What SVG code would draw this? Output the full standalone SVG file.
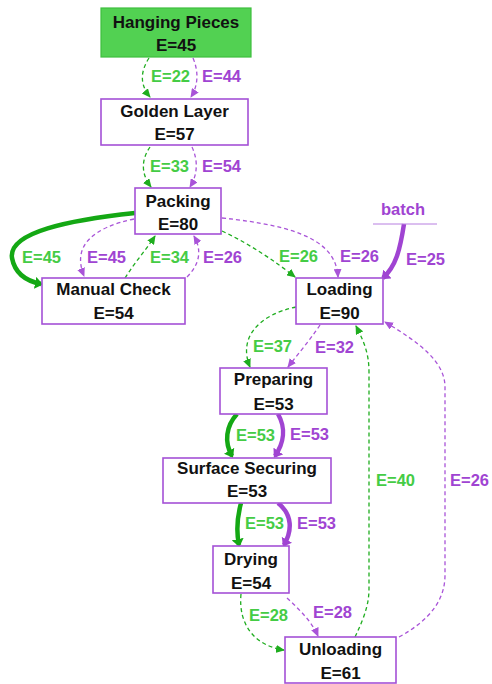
<svg xmlns="http://www.w3.org/2000/svg" width="492" height="684" viewBox="0 0 492 684">
  <style>
    .box { fill: #ffffff; stroke: #a451d6; stroke-width: 1.6; }
    .start { fill: #52d152; stroke: #3fbf3f; stroke-width: 1.2; }
    .name { font-family: "Liberation Sans", Arial, sans-serif; font-weight: bold; font-size: 17px; fill: #111111; text-anchor: middle; }
    .lbl { font-family: "Liberation Sans", Arial, sans-serif; font-weight: bold; font-size: 16.5px; }
    .lg { fill: #45cc45; }
    .lp { fill: #a044d2; }
    .dg { fill: none; stroke: #1fad1f; stroke-width: 1.3; stroke-dasharray: 4 3; marker-end: url(#ag); }
    .dp { fill: none; stroke: #a954d8; stroke-width: 1.3; stroke-dasharray: 4 3; marker-end: url(#ap); }
    .tg { fill: none; stroke: #14a814; stroke-width: 4.5; marker-end: url(#tg); }
    .tp { fill: none; stroke: #a044d2; stroke-width: 4.5; marker-end: url(#tp); }
  </style>
  <defs>
    <marker id="ag" markerUnits="userSpaceOnUse" markerWidth="9" markerHeight="8" refX="8" refY="4" orient="auto">
      <path d="M0,0 L9,4 L0,8 z" fill="#1fad1f"/>
    </marker>
    <marker id="ap" markerUnits="userSpaceOnUse" markerWidth="9" markerHeight="8" refX="8" refY="4" orient="auto">
      <path d="M0,0 L9,4 L0,8 z" fill="#a954d8"/>
    </marker>
    <!-- stubby heads for the heavy flows -->
    <marker id="tg" markerUnits="userSpaceOnUse" markerWidth="9" markerHeight="12" refX="6" refY="6" orient="auto">
      <path d="M0,0 L8,6 L0,12 z" fill="#14a814"/>
    </marker>
    <marker id="tp" markerUnits="userSpaceOnUse" markerWidth="9" markerHeight="12" refX="6" refY="6" orient="auto">
      <path d="M0,0 L8,6 L0,12 z" fill="#a044d2"/>
    </marker>
  </defs>

  <rect width="492" height="684" fill="#ffffff"/>

  <g id="connectors">
    <!-- Hanging Pieces -> Golden Layer -->
    <path class="dg" d="M149,58 C140,72 140,85 150,97"/>
    <path class="dp" d="M193,58 C199,72 198,86 191,97"/>
    <!-- Golden Layer -> Packing -->
    <path class="dg" d="M150,147 C141,160 141,174 151,187"/>
    <path class="dp" d="M192,147 C198,160 198,174 190,187"/>
    <!-- Packing <-> Manual Check -->
    <path class="tg" d="M135,213 C70,220 8,232 12,258 C15,274 26,281 41,284"/>
    <path class="dp" d="M134,219 C92,228 72,246 84,276"/>
    <path class="dg" d="M125,278 C135,262 146,250 155,236"/>
    <path class="dp" d="M187,277 C200,264 202,250 194,236"/>
    <!-- Packing -> Loading -->
    <path class="dg" d="M222,231 C250,244 276,262 295,277"/>
    <path class="dp" d="M222,218 C300,226 336,242 338,277"/>
    <!-- batch -> Loading -->
    <path class="tp" d="M404,224 C400,250 396,266 383,278"/>
    <!-- Loading -> Preparing -->
    <path class="dg" d="M296,307 C258,315 238,338 250,367"/>
    <path class="dp" d="M320,325 C310,340 298,354 288,367"/>
    <!-- Preparing -> Surface Securing -->
    <path class="tg" d="M237,414 C226,426 224,442 232,456"/>
    <path class="tp" d="M278,414 C286,428 284,443 275,456"/>
    <!-- Surface Securing -> Drying -->
    <path class="tg" d="M241,503 C237,518 236,531 239,545"/>
    <path class="tp" d="M278,503 C293,515 292,531 284,545"/>
    <!-- Drying -> Unloading -->
    <path class="dg" d="M241,594 C238,626 256,646 284,650"/>
    <path class="dp" d="M287,598 C300,610 312,622 318,636"/>
    <!-- Unloading -> Loading -->
    <path class="dg" d="M355,637 C366,614 369,602 369,588 L369,372 C369,352 363,340 356,326"/>
    <path class="dp" d="M399,637 C430,620 445,600 445,575 L445,387 C445,362 420,343 385,322"/>
  </g>

  <g id="edge-labels">
    <text class="lbl lg" x="151" y="82">E=22</text>
    <text class="lbl lp" x="202" y="82">E=44</text>
    <text class="lbl lg" x="150" y="172">E=33</text>
    <text class="lbl lp" x="202" y="172">E=54</text>
    <text class="lbl lg" x="22" y="263">E=45</text>
    <text class="lbl lp" x="87" y="263">E=45</text>
    <text class="lbl lg" x="150" y="263">E=34</text>
    <text class="lbl lp" x="203" y="263">E=26</text>
    <text class="lbl lg" x="279" y="262">E=26</text>
    <text class="lbl lp" x="340" y="262">E=26</text>
    <text class="lbl lp" x="406" y="265">E=25</text>
    <text class="lbl lg" x="253" y="352">E=37</text>
    <text class="lbl lp" x="315" y="353">E=32</text>
    <text class="lbl lg" x="236" y="441">E=53</text>
    <text class="lbl lp" x="290" y="440">E=53</text>
    <text class="lbl lg" x="245" y="529">E=53</text>
    <text class="lbl lp" x="297" y="529">E=53</text>
    <text class="lbl lg" x="249" y="621">E=28</text>
    <text class="lbl lp" x="313" y="618">E=28</text>
    <text class="lbl lg" x="376" y="486">E=40</text>
    <text class="lbl lp" x="450" y="486">E=26</text>
  </g>

  <g id="batch">
    <text class="lbl lp" x="403" y="215" text-anchor="middle" font-size="17">batch</text>
    <line x1="373" y1="224" x2="437" y2="224" stroke="#b77ee0" stroke-width="1"/>
  </g>

  <g id="hanging-pieces">
    <rect class="start" x="101" y="8" width="150" height="49"/>
    <text class="name" x="176" y="28">Hanging Pieces</text>
    <text class="name" x="176" y="51">E=45</text>
  </g>
  <g id="golden-layer">
    <rect class="box" x="101" y="99" width="147" height="46"/>
    <text class="name" x="174.5" y="117">Golden Layer</text>
    <text class="name" x="174.5" y="140">E=57</text>
  </g>
  <g id="packing">
    <rect class="box" x="135" y="188" width="86" height="46"/>
    <text class="name" x="178" y="207">Packing</text>
    <text class="name" x="178" y="230">E=80</text>
  </g>
  <g id="manual-check">
    <rect class="box" x="42" y="278" width="143" height="46"/>
    <text class="name" x="113.5" y="295">Manual Check</text>
    <text class="name" x="113.5" y="319">E=54</text>
  </g>
  <g id="loading">
    <rect class="box" x="296" y="278" width="87" height="46"/>
    <text class="name" x="339.5" y="295">Loading</text>
    <text class="name" x="339.5" y="319">E=90</text>
  </g>
  <g id="preparing">
    <rect class="box" x="220" y="368" width="107" height="46"/>
    <text class="name" x="273.5" y="385">Preparing</text>
    <text class="name" x="273.5" y="410">E=53</text>
  </g>
  <g id="surface-securing">
    <rect class="box" x="163" y="458" width="168" height="45"/>
    <text class="name" x="247" y="474">Surface Securing</text>
    <text class="name" x="247" y="497">E=53</text>
  </g>
  <g id="drying">
    <rect class="box" x="213" y="546" width="76" height="47"/>
    <text class="name" x="251" y="565">Drying</text>
    <text class="name" x="251" y="589">E=54</text>
  </g>
  <g id="unloading">
    <rect class="box" x="285" y="637" width="111" height="46"/>
    <text class="name" x="340.5" y="655">Unloading</text>
    <text class="name" x="340.5" y="679">E=61</text>
  </g>
</svg>
